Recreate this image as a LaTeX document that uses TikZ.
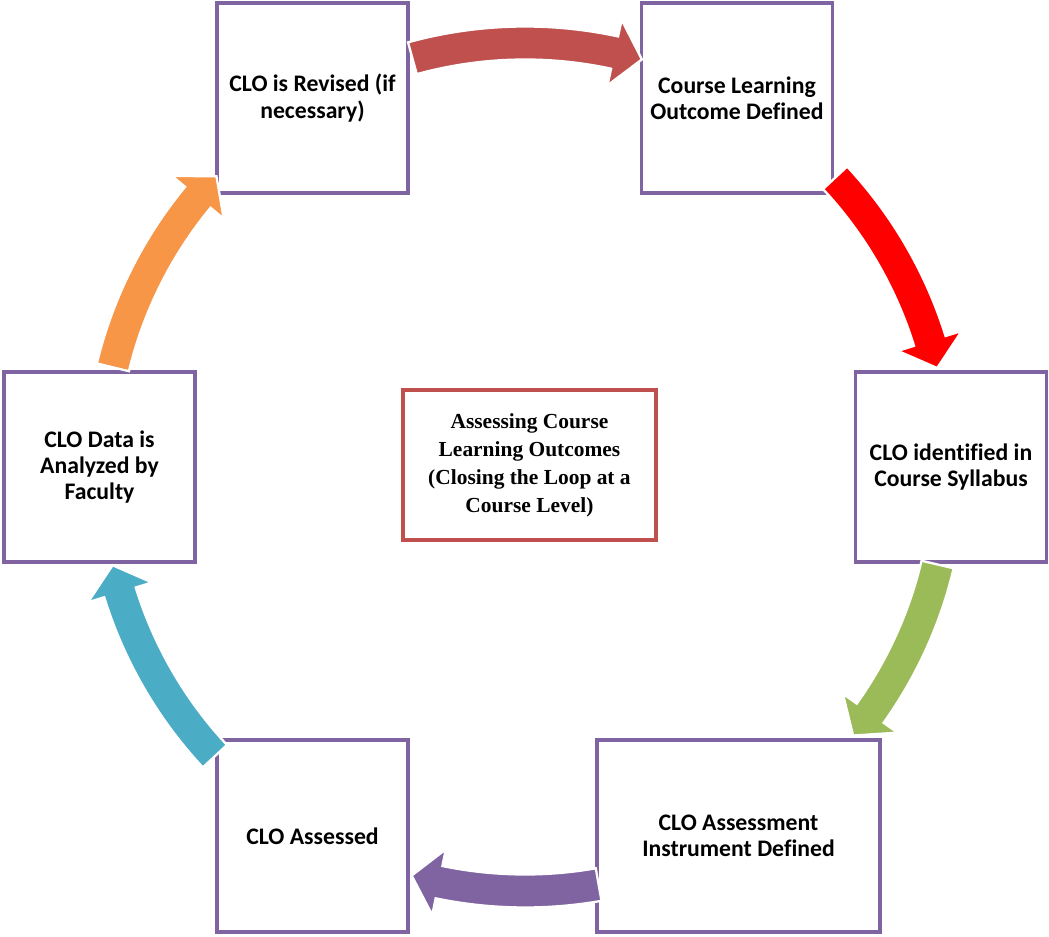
\documentclass[tikz,border=0pt]{standalone}
\usepackage{fontspec}
\setmainfont[Ligatures=CommonOff]{Carlito}
\newfontfamily\centerfont{Liberation Serif}
\definecolor{boxpurple}{HTML}{8064A2}
\definecolor{boxred}{HTML}{C0504D}
\definecolor{arrred}{HTML}{C0504D}
\definecolor{arrbright}{HTML}{FF0000}
\definecolor{arrgreen}{HTML}{9BBB59}
\definecolor{arrpurple}{HTML}{8064A2}
\definecolor{arrteal}{HTML}{4BACC6}
\definecolor{arrorange}{HTML}{F79646}
\newcommand\cloarrow[3]{%
  \fill[#1, draw=white, line width=1.3pt, line join=miter]
    (#2:8.81) arc[start angle=#2, end angle={#3+3.8}, radius=8.81]
    -- ({#3+3.8}:9.15) -- (#3:8.48) -- ({#3+3.8}:7.81) -- ({#3+3.8}:8.15)
    arc[start angle={#3+3.8}, end angle=#2, radius=8.15] -- cycle;}
\begin{document}
\begin{tikzpicture}[
  stage/.style={draw=boxpurple, line width=2.2pt, fill=white, minimum width=3.82cm, minimum height=3.80cm,
    align=center, font=\bfseries\fontsize{13.5}{15}\selectfont, inner sep=2pt},
  hub/.style={draw=boxred, line width=2.3pt, fill=white, minimum width=5.06cm, minimum height=3.0cm,
    align=center, font=\centerfont\bfseries\fontsize{12.2}{15.9}\selectfont}
]
\useasboundingbox (-10.50,-9.40) rectangle (10.48,9.34);
\node[stage] (revised) at (-4.25,7.38) {CLO is Revised (if\\necessary)};
\node[stage] (defined) at (4.24,7.38) {Course Learning\\Outcome Defined};
\node[stage] (syllabus) at (8.52,0) {CLO identified in\\Course Syllabus};
\node[stage, minimum width=5.66cm, minimum height=3.84cm] (instrument) at (4.27,-7.38) {CLO Assessment\\Instrument Defined};
\node[stage, minimum height=3.84cm] (assessed) at (-4.25,-7.38) {CLO Assessed};
\node[stage] (analyzed) at (-8.51,0) {CLO Data is\\Analyzed by\\Faculty};
\node[hub] (hub) at (0.09,0.04) {Assessing Course\\Learning Outcomes\\(Closing the Loop at a\\Course Level)};
\cloarrow{arrred}{105.4}{74}
\cloarrow{arrbright}{43}{13.5}
\cloarrow{arrgreen}{-13.3}{-39.3}
\cloarrow{arrpurple}{-80}{-105.5}
\cloarrow{arrteal}{-137}{-166.6}
\cloarrow{arrorange}{166.4}{136.7}
\end{tikzpicture}
\end{document}
